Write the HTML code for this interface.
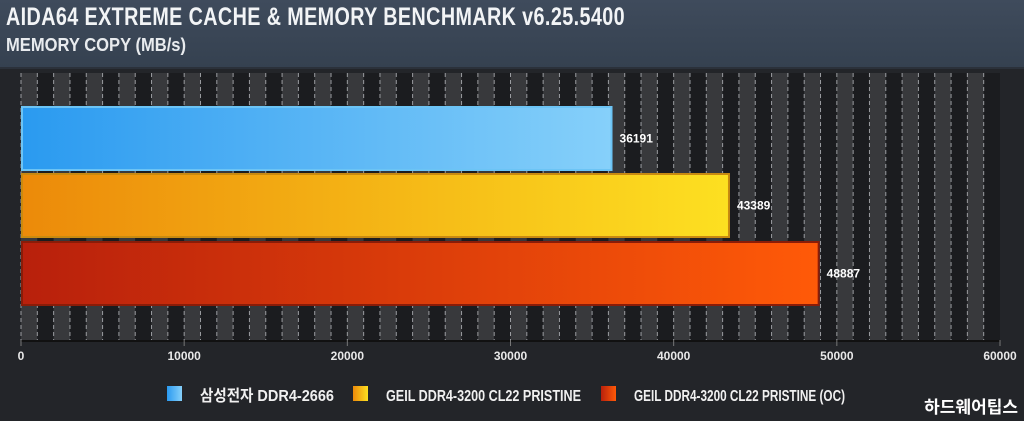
<!DOCTYPE html>
<html><head><meta charset="utf-8"><style>
body{margin:0;width:1024px;height:421px;overflow:hidden;background:#232529;font-family:"Liberation Sans","Noto Sans CJK KR",sans-serif}
#hdr{position:absolute;left:0;top:0;width:1024px;height:67px;background:linear-gradient(#3f4b5c,#354150);border-bottom:2px solid #2b313a}
#t1{position:absolute;left:6px;top:3px;color:#f2f4f6;font:bold 25px "Liberation Sans",sans-serif;transform:scaleX(0.79);transform-origin:left;letter-spacing:0.5px;white-space:nowrap}
#t2{position:absolute;left:6px;top:35px;color:#e8ebee;font:bold 18px "Liberation Sans",sans-serif;transform:scaleX(0.92);transform-origin:left;white-space:nowrap}
</style></head><body>
<div id="hdr">
<div id="t1">AIDA64 EXTREME CACHE &amp; MEMORY BENCHMARK v6.25.5400</div>
<div id="t2">MEMORY COPY (MB/s)</div>
</div>
<svg id="c" width="1024" height="421" style="position:absolute;left:0;top:0">
<defs>
<linearGradient id="g0" x1="0" x2="1"><stop offset="0" stop-color="#2a9af0"/><stop offset="1" stop-color="#86d0fa"/></linearGradient>
<linearGradient id="g1" x1="0" x2="1"><stop offset="0" stop-color="#ec8a0a"/><stop offset="1" stop-color="#fde021"/></linearGradient>
<linearGradient id="g2" x1="0" x2="1"><stop offset="0" stop-color="#b8200c"/><stop offset="1" stop-color="#ff5a08"/></linearGradient>
</defs>
</svg>
<script>
const categories=["삼성전자 DDR4-2666","GEIL DDR4-3200 CL22 PRISTINE","GEIL DDR4-3200 CL22 PRISTINE (OC)"];
const values=[36191,43389,48887];
const ticks=[0,10000,20000,30000,40000,50000,60000];
const NS="http://www.w3.org/2000/svg",svg=document.getElementById('c');
const x0=21,x1=1000,xmax=60000,top0=73,bot=340;
const X=v=>x0+(x1-x0)*v/xmax;
function mk(t,a,p){const e=document.createElementNS(NS,t);for(const k in a)e.setAttribute(k,a[k]);(p||svg).appendChild(e);return e;}
const grid=mk('g',{});


for(let i=0;i<60;i++){
 mk('rect',{x:X(i*1000),y:top0,width:X(1000)-X(0),height:bot-top0,fill:i%2?'#1b1c1f':'#38393c'},grid);
 mk('line',{x1:X(i*1000),x2:X(i*1000),y1:top0,y2:bot,stroke:'#9a9ca0','stroke-width':1,'stroke-dasharray':'4,3'},grid);
}
const ax=mk('line',{x1:x0,x2:x1,y1:bot+1,y2:bot+1,stroke:'#111','stroke-width':2});


ticks.forEach(t=>{
 mk('line',{x1:X(t),x2:X(t),y1:bot,y2:bot+6,stroke:'#777'});
 const tx=mk('text',{x:X(t),y:360,fill:'#e8e8e8','font-size':12,'font-weight':'bold','text-anchor':'middle'});
 tx.textContent=t;
 
 
});
const bh=63,by=[107,174,242];
values.forEach((v,i)=>{
 const r=mk('rect',{x:x0+1,y:by[i],width:X(v)-x0-1,height:bh,fill:'url(#g'+i+')',stroke:['#6cc4f5','#c98a10','#8a1c08'][i],'stroke-width':2});
 
 
 const t=mk('text',{x:X(v)+8,y:by[i]+bh/2+4,fill:'#fff','font-size':12,'font-weight':'bold'});
 t.textContent=v;
 
 
});
const lx=[167,353,601];
const lw=[134,195,211];
categories.forEach((c,i)=>{
 const g=mk('g',{});
 
 
 mk('rect',{x:lx[i],y:386,width:15,height:15,fill:'url(#g'+i+')'},g);
 const t=mk('text',{x:lx[i]+33,y:401,fill:'#f0f0f0','font-size':16,'font-weight':'bold',textLength:lw[i],lengthAdjust:'spacingAndGlyphs'},g);
 t.textContent=c;
});
const w=mk('text',{x:1018,y:413,fill:'#fff','font-size':17,'font-weight':'bold','text-anchor':'end'});
w.textContent='하드웨어팁스';


</script>
</body></html>
